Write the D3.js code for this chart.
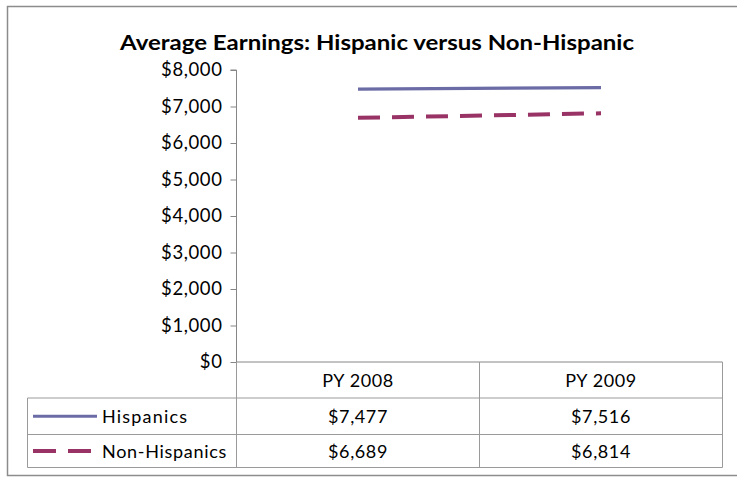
<!DOCTYPE html>
<html><head><meta charset="utf-8">
<script src="https://cdnjs.cloudflare.com/ajax/libs/d3/7.8.5/d3.min.js"></script>
<style>body{margin:0;background:#fff}svg{display:block}text{font-family:Lato,"Open Sans",sans-serif;fill:#000}</style>
</head><body><div id="chart"></div>
<script>
const title = "Average Earnings: Hispanic versus Non-Hispanic";
const categories = ["PY 2008", "PY 2009"];
const seriesNames = ["Hispanics", "Non-Hispanics"];
const hispanics = [7477, 7516];
const nonHispanics = [6689, 6814];
const yTicks = [0, 1000, 2000, 3000, 4000, 5000, 6000, 7000, 8000];
const colors = ["#6B6BA6", "#993366"];

(function () {
const W = 737, H = 477;
const svg = d3.select("#chart").append("svg").attr("width", W).attr("height", H);

// outer border
svg.append("rect").attr("x", 7.5).attr("y", 6.5).attr("width", 740).attr("height", 469)
  .attr("fill", "none").attr("stroke", "#8c8c8c").attr("stroke-width", 1.5);

svg.append("text").attr("x", 377).attr("y", 50).attr("text-anchor", "middle")
  .attr("font-size", 21).attr("font-weight", "bold")
  .attr("textLength", 514).attr("lengthAdjust", "spacingAndGlyphs").text(title);

const pLeft = 236.5, pRight = 722.5, pTop = 70, pBottom = 362;
const x = d3.scaleBand().domain(categories).range([pLeft, pRight]);
const y = d3.scaleLinear().domain([0, 8000]).range([pBottom, pTop]);

// y axis
const ya = svg.append("g").attr("transform", `translate(${pLeft},0)`)
  .call(d3.axisLeft(y).tickValues(yTicks).tickSize(6).tickPadding(8)
    .tickFormat(d => "$" + d3.format(",")(d)));
ya.select(".domain").attr("stroke", "#868686").attr("d", `M-6,${y(8000)}H0V${pBottom}`);
ya.selectAll(".tick line").attr("stroke", "#868686");
ya.selectAll(".tick text").attr("font-size", 18.5).attr("letter-spacing", 0.6)
  .attr("font-family", "Lato, sans-serif").attr("fill", "#000");

// lines
const line = d3.line().x((d, i) => x(categories[i]) + x.bandwidth() / 2).y(d => y(d));
svg.append("path").datum(hispanics).attr("d", line).attr("fill", "none")
  .attr("stroke", colors[0]).attr("stroke-width", 3.2);
svg.append("path").datum(nonHispanics).attr("d", line).attr("fill", "none")
  .attr("stroke", colors[1]).attr("stroke-width", 4).attr("stroke-dasharray", "22,12");

// data table
const tbl = svg.append("g");
const rowY = [pBottom, 398, 434.5, 467.5];
const tLeft = 27.5;
const gc = "#9a9a9a";
tbl.append("line").attr("x1", pLeft).attr("x2", pRight).attr("y1", rowY[0]).attr("y2", rowY[0]).attr("stroke", "#868686");
[1, 2, 3].forEach(i => tbl.append("line").attr("x1", tLeft).attr("x2", pRight)
  .attr("y1", rowY[i]).attr("y2", rowY[i]).attr("stroke", gc));
tbl.append("line").attr("x1", tLeft).attr("x2", tLeft).attr("y1", rowY[1]).attr("y2", rowY[3]).attr("stroke", gc);
tbl.append("line").attr("x1", pLeft).attr("x2", pLeft).attr("y1", rowY[0]).attr("y2", rowY[3]).attr("stroke", gc);
tbl.append("line").attr("x1", x(categories[1])).attr("x2", x(categories[1])).attr("y1", rowY[0]).attr("y2", rowY[3]).attr("stroke", gc);
tbl.append("line").attr("x1", pRight).attr("x2", pRight).attr("y1", rowY[0]).attr("y2", rowY[3]).attr("stroke", gc);

const fs = 18;
categories.forEach(c => tbl.append("text").attr("x", x(c) + x.bandwidth() / 2).attr("y", (rowY[0] + rowY[1]) / 2 + 6.5)
  .attr("text-anchor", "middle").attr("font-size", fs).attr("letter-spacing", 0.6).text(c));
const series = [hispanics, nonHispanics];
series.forEach((s, r) => {
  const cy = (rowY[r + 1] + rowY[r + 2]) / 2;
  s.forEach((v, i) => tbl.append("text").attr("x", x(categories[i]) + x.bandwidth() / 2).attr("y", cy + 6.5)
    .attr("text-anchor", "middle").attr("font-size", fs).attr("letter-spacing", 0.6)
    .text("$" + d3.format(",")(v)));
  const ln = tbl.append("line").attr("x1", 33).attr("x2", 97).attr("y1", cy).attr("y2", cy)
    .attr("stroke", colors[r]).attr("stroke-width", r === 0 ? 3 : 4);
  if (r === 1) ln.attr("stroke-dasharray", "23,12");
  tbl.append("text").attr("x", 102).attr("y", cy + 6.5).attr("font-size", fs)
    .attr("letter-spacing", r === 0 ? 1.2 : 0.7).text(seriesNames[r]);
});
})();
</script></body></html>
